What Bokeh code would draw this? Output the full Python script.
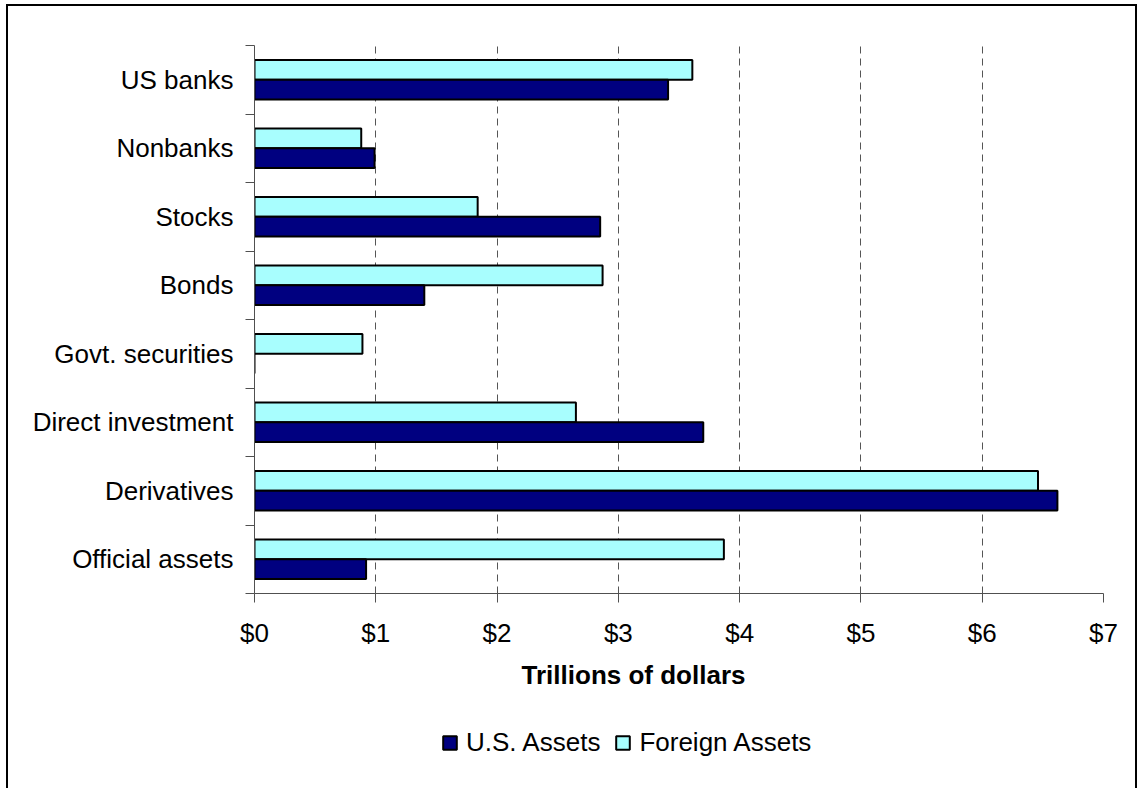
from bokeh.plotting import figure
from bokeh.layouts import column
from bokeh.models import (ColumnDataSource, Range1d, FixedTicker, Legend, LegendItem,
                          PrintfTickFormatter, Label)
from bokeh.transform import dodge
from bokeh.embed import file_html
from bokeh.resources import INLINE

categories = ["US banks", "Nonbanks", "Stocks", "Bonds", "Govt. securities",
              "Direct investment", "Derivatives", "Official assets"]
us_assets = [3.41, 0.99, 2.85, 1.40, 0.0, 3.70, 6.62, 0.92]
foreign_assets = [3.61, 0.88, 1.84, 2.87, 0.89, 2.65, 6.46, 3.87]
x_ticks = [0, 1, 2, 3, 4, 5, 6, 7]
x_title = "Trillions of dollars"
series_names = ["U.S. Assets", "Foreign Assets"]

n = len(categories)
ypos = [n - 0.5 - i for i in range(n)]
src = ColumnDataSource(dict(cat=categories, y=ypos, us=us_assets, foreign=foreign_assets))

FONT = "Liberation Sans"
FS = "26px"
US_COLOR = "#000080"
FOREIGN_COLOR = "#A8FEFE"

p = figure(width=1131, height=644, output_backend="svg", toolbar_location=None,
           x_range=Range1d(0, 7), y_range=Range1d(0, n),
           min_border_left=246, min_border_right=36, min_border_top=39, min_border_bottom=57)
p.styles = {"margin-left": "6px", "margin-top": "4px",
            "border-left": "2px solid black", "border-top": "2px solid black",
            "border-right": "2px solid black"}
p.outline_line_color = None
p.background_fill_color = "white"
p.border_fill_color = "white"

p.hbar(y=dodge("y", 0.145, range=p.y_range), right="foreign", left=0, height=0.29,
       source=src, fill_color=FOREIGN_COLOR, line_color="black", line_width=2)
p.hbar(y=dodge("y", -0.145, range=p.y_range), right="us", left=0, height=0.29,
       source=src, fill_color=US_COLOR, line_color="black", line_width=2)

# x axis
xa = p.xaxis[0]
xa.ticker = FixedTicker(ticks=x_ticks)
xa.formatter = PrintfTickFormatter(format="$%d")
xa.major_label_text_font = FONT
xa.major_label_text_font_size = FS
xa.major_label_text_color = "black"
xa.major_label_standoff = 15
xa.major_tick_out = 9
xa.major_tick_in = 0
xa.minor_tick_line_color = None
xa.axis_line_color = "#505050"
xa.major_tick_line_color = "#505050"

# y axis
ya = p.yaxis[0]
ya.ticker = FixedTicker(ticks=ypos, minor_ticks=list(range(n + 1)))
ya.major_label_overrides = {y: c for y, c in zip(ypos, categories)}
ya.major_label_text_font = FONT
ya.major_label_text_font_size = FS
ya.major_label_text_color = "black"
ya.major_label_standoff = 12
ya.major_tick_in = 0
ya.major_tick_out = 0
ya.major_tick_line_color = None
ya.minor_tick_in = 0
ya.minor_tick_out = 9
ya.minor_tick_line_color = "#505050"
ya.axis_line_color = "#505050"

p.ygrid.grid_line_color = None
p.xgrid.grid_line_color = "#555555"
p.xgrid.grid_line_dash = "7 5"
p.xgrid.grid_line_width = 1

# bottom strip: axis title and legend (its bar renderers are hidden; only legend keys show)
q = figure(width=1131, height=140, output_backend="svg", toolbar_location=None,
           x_range=Range1d(100, 101), y_range=Range1d(100, 101),
           x_axis_location=None, y_axis_location=None,
           min_border_left=246, min_border_right=36, min_border_top=0, min_border_bottom=0)
q.styles = {"margin-left": "6px",
            "border-left": "2px solid black", "border-right": "2px solid black"}
q.outline_line_color = None
q.grid.grid_line_color = None
q.border_fill_color = "white"
q.background_fill_color = "white"
lf = q.hbar(y="y", right="foreign", left=0, height=0.29, source=src,
            fill_color=FOREIGN_COLOR, line_color="black", line_width=2, visible=False)
lu = q.hbar(y="y", right="us", left=0, height=0.29, source=src,
            fill_color=US_COLOR, line_color="black", line_width=2, visible=False)

title = Label(x=379, y=114, x_units="screen", y_units="screen", text=x_title,
              text_align="center", text_baseline="middle", text_font=FONT,
              text_font_size=FS, text_font_style="bold", text_color="black")
q.add_layout(title)

legend = Legend(items=[LegendItem(label=series_names[0], renderers=[lu]),
                       LegendItem(label=series_names[1], renderers=[lf])],
                location=(187, 30), orientation="horizontal")
legend.margin = 0
legend.padding = 5
legend.label_text_font = FONT
legend.label_text_font_size = FS
legend.label_text_color = "black"
legend.glyph_width = 17
legend.glyph_height = 17
legend.spacing = 14
legend.label_standoff = 8
legend.border_line_color = None
legend.background_fill_alpha = 0
legend.inactive_fill_alpha = 0
q.add_layout(legend)

layout = column(p, q, spacing=0)
open("out.html", "w").write(file_html(layout, INLINE))
